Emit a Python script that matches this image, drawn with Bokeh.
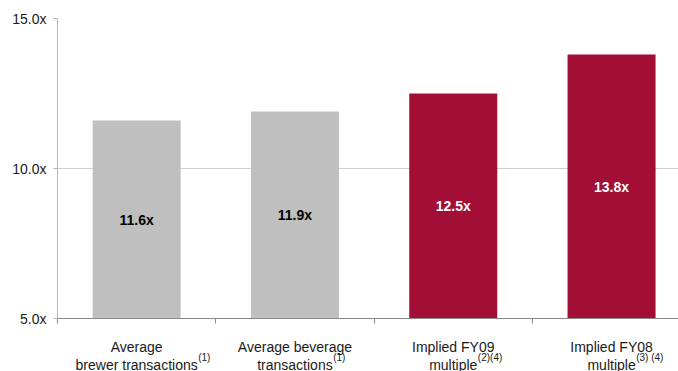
from bokeh.plotting import figure
from bokeh.models import Range1d, FixedTicker, Label, ColumnDataSource
from bokeh.layouts import column
from bokeh.core.properties import value
from bokeh.embed import file_html
from bokeh.resources import INLINE

# ---- data ----
cat_line1 = ["Average", "Average beverage", "Implied FY09", "Implied FY08"]
cat_line2 = ["brewer transactions", "transactions", "multiple", "multiple"]
cat_sup = ["(1)", "(1)", "(2)(4)", "(3) (4)"]
values = [11.6, 11.9, 12.5, 13.8]
bar_colors = ["#BFBFBF", "#BFBFBF", "#A20E35", "#A20E35"]
label_colors = ["#000000", "#000000", "#FFFFFF", "#FFFFFF"]
y_ticks = [5, 10, 15]
y_tick_labels = ["5.0x", "10.0x", "15.0x"]

FONT = "Liberation Sans"
W, H = 678, 371
LEFT, TOP = 57, 18
FRAME_H = 300
MAIN_BOTTOM = 10
BAND_PX = 158.3
Y0 = 5.0
TXT = "#1A1A1A"

# Arial/Liberation Sans advance widths (per 1000 em) for measuring the label text
ARIAL = {" ": 278, "a": 556, "b": 556, "c": 500, "e": 556, "i": 222, "l": 222,
         "m": 833, "n": 556, "o": 556, "p": 556, "r": 333, "s": 500, "t": 278,
         "u": 556, "w": 722}


def text_width(s, size):
    return sum(ARIAL.get(ch, 556) for ch in s) * size / 1000.0


x_end = (W - LEFT) / BAND_PX
xr = Range1d(0, x_end)
centers = [i + 0.5 for i in range(len(values))]

main_h = TOP + FRAME_H + MAIN_BOTTOM
p = figure(width=W, height=main_h, output_backend="svg", toolbar_location=None,
           x_range=xr, y_range=Range1d(5, 15),
           min_border_left=LEFT, min_border_right=0, min_border_top=TOP,
           min_border_bottom=MAIN_BOTTOM, outline_line_color=None,
           background_fill_color="white", border_fill_color="white")

src = ColumnDataSource(dict(x=centers, top=values, color=bar_colors,
                            mid=[(Y0 + v) / 2 for v in values],
                            txt=["%.1fx" % v for v in values], tcol=label_colors))
p.vbar(x="x", top="top", bottom=Y0, width=0.556, fill_color="color",
       line_color=None, source=src)
p.text(x="x", y="mid", text="txt", text_color="tcol", source=src,
       text_font=value(FONT), text_font_size="14px", text_font_style="bold",
       text_align="center", text_baseline="middle")

# y axis
p.yaxis.ticker = FixedTicker(ticks=y_ticks)
p.yaxis.major_label_overrides = {t: l for t, l in zip(y_ticks, y_tick_labels)}
p.yaxis.major_label_text_font = FONT
p.yaxis.major_label_text_font_size = "14px"
p.yaxis.major_label_text_color = TXT
p.yaxis.axis_line_color = "#B5B5B5"
p.yaxis.major_tick_line_color = "#B5B5B5"
p.yaxis.major_tick_out = 4
p.yaxis.major_tick_in = 0
p.yaxis.minor_tick_line_color = None
p.yaxis.major_label_standoff = 7

# x axis (ticks only at band boundaries)
x_ticks = list(range(len(values)))
p.xaxis.ticker = FixedTicker(ticks=x_ticks)
p.xaxis.major_label_overrides = {t: "" for t in x_ticks}
p.xaxis.major_label_standoff = 0
p.xaxis.axis_line_color = "#8A8A8A"
p.xaxis.major_tick_line_color = "#8A8A8A"
p.xaxis.major_tick_out = 5
p.xaxis.major_tick_in = 0
p.xaxis.minor_tick_line_color = None

p.xgrid.grid_line_color = None
p.ygrid.ticker = FixedTicker(ticks=y_ticks)
p.ygrid.grid_line_color = "#D0D0D0"

# category labels panel: y measured in pixels below the main frame bottom
lab_h = H - main_h
q = figure(width=W, height=lab_h, output_backend="svg", toolbar_location=None,
           x_range=xr, y_range=Range1d(MAIN_BOTTOM + lab_h, MAIN_BOTTOM),
           min_border_left=LEFT, min_border_right=0, min_border_top=0,
           min_border_bottom=0, outline_line_color=None,
           x_axis_location=None, y_axis_location=None,
           background_fill_color="white", border_fill_color="white")
q.xgrid.grid_line_color = None
q.ygrid.grid_line_color = None

for c, l1, l2, sup in zip(centers, cat_line1, cat_line2, cat_sup):
    q.add_layout(Label(x=c, y=28, text=l1, text_font=FONT,
                       text_font_size="14px", text_color=TXT,
                       text_align="center", text_baseline="alphabetic"))
    q.add_layout(Label(x=c, y=46, text=l2, text_font=FONT,
                       text_font_size="14px", text_color=TXT,
                       text_align="center", text_baseline="alphabetic"))
    q.add_layout(Label(x=c, x_offset=text_width(l2, 14) / 2 + 0.5,
                       y=39, text=sup, text_font=FONT,
                       text_font_size="10px", text_color=TXT,
                       text_align="left", text_baseline="alphabetic"))

layout = column(p, q, spacing=0)
open("out.html", "w").write(file_html(layout, INLINE))
